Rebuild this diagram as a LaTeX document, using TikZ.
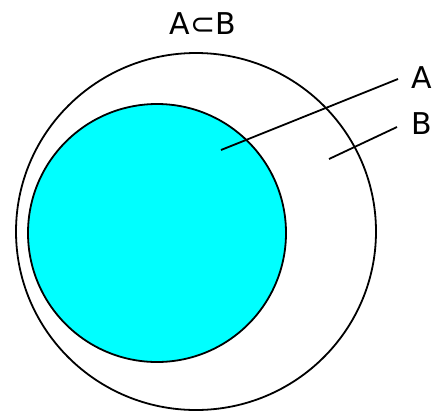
\documentclass[tikz,border=0pt]{standalone}
\usepackage{fontspec}
\setmainfont{DejaVu Sans}
\definecolor{setcyan}{RGB}{0,255,255}
\begin{document}
\begin{tikzpicture}[x=1pt,y=-1pt,
  setline/.style={draw=black,line width=1.8pt},
  lbl/.style={font=\fontsize{30}{34}\selectfont,inner sep=0pt}]
\useasboundingbox (0,0) rectangle (438,413);
\draw[setline] (196,231.5) ellipse[x radius=180,y radius=178.5];
\draw[setline,fill=setcyan] (157,233) circle[radius=129];
\node[lbl] (title) at (203,24) {A⊂B};
\node[lbl] (la) at (422,78) {A};
\node[lbl] (lb) at (422,124) {B};
\coordinate (pa) at (221,150);
\coordinate (qa) at (398,79);
\coordinate (pb) at (329,159);
\coordinate (qb) at (397,127);
\draw[setline] (pa) -- (qa);
\draw[setline] (pb) -- (qb);
\end{tikzpicture}
\end{document}
